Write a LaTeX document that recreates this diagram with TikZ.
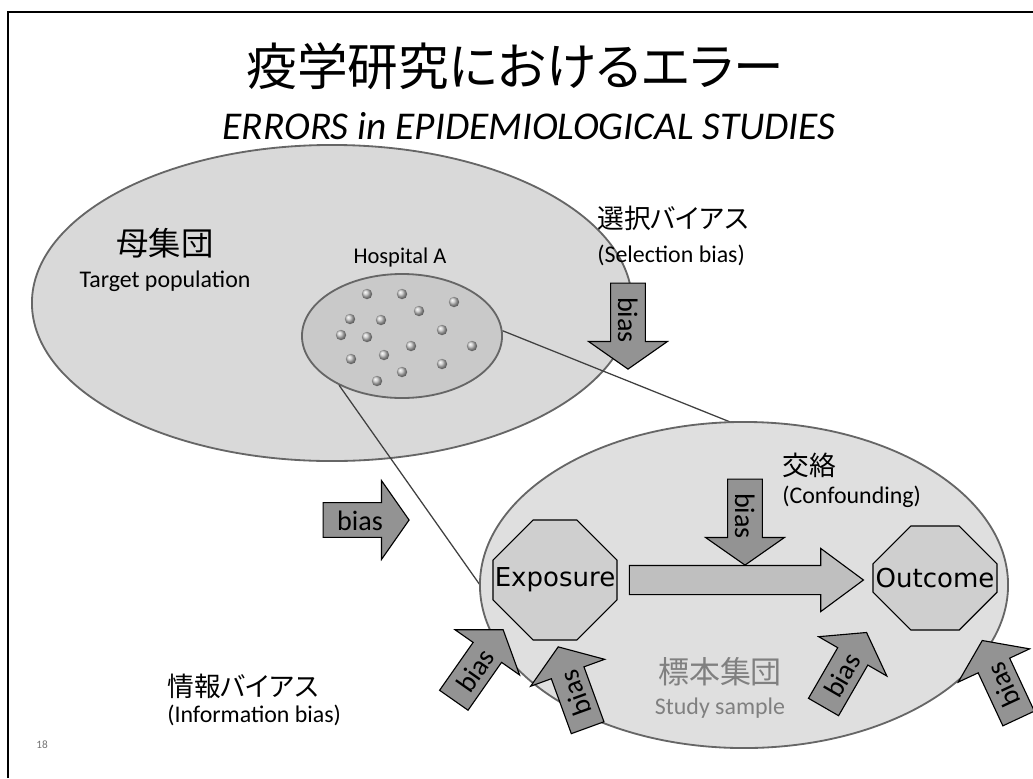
\documentclass[tikz,border=0pt]{standalone}
\usepackage{fontspec}
\setmainfont{Carlito}
\newfontfamily\jpfont{Noto Sans CJK JP}[RawFeature=+palt]
\newfontfamily\boxfont{DejaVu Sans}
\usetikzlibrary{shapes.geometric,shapes.misc,shapes.arrows,positioning}

\tikzset{
  pop/.style={ellipse, draw=black!60, line width=1.3pt},
  octa/.style={chamfered rectangle, chamfered rectangle sep=0.7cm,
    inner xsep=-0.7cm, inner ysep=0pt, draw=black,
    line width=0.8pt, fill=gray!38,
    font=\boxfont\fontsize{18.5}{20}\selectfont},
  biasarrow/.style={single arrow, draw=black, line width=0.8pt, fill=gray!85,
    single arrow head extend=0.55cm, single arrow tip angle=110,
    minimum height=2.15cm, text height=0.5cm, text depth=0cm, inner ysep=0.17cm,
    font=\fontsize{20}{22}\selectfont},
  jplabel/.style={font=\jpfont\fontsize{19}{21}\selectfont, inner sep=0pt, anchor=west},
  enlabel/.style={font=\fontsize{17}{19}\selectfont, inner sep=0pt},
  zoomline/.style={draw=black!75, line width=0.9pt}
}

\begin{document}
\begin{tikzpicture}[x=0.025cm,y=-0.025cm]
\useasboundingbox (0,0) rectangle (1033,778);
\draw[line width=1.5pt] (8,778) -- (8,12) -- (1033,12);

% title
\node (title) [font=\jpfont\fontsize{36}{40}\selectfont] at (515,66) {疫学研究におけるエラー};
\node (subtitle) [font=\itshape\fontsize{28}{30}\selectfont] at (529,126)
    {ERRORS in EPIDEMIOLOGICAL STUDIES};

% target population
\node (target) [pop, fill=gray!30, minimum width=15cm, minimum height=7.9cm] at (332,303) {};
\node (hosp) [pop, fill=gray!42, minimum width=5cm, minimum height=3.1cm] at (402,336) {};
\foreach \p in {(367,294),(402,294),(454,302),(419,311),(350,319),(381,320),
    (442,330),(341,335),(367,337),(411,346),(472,346),(351,359),(384,355),
    (442,364),(402,372),(377,381)}
  \shade[ball color=gray!45] \p circle [radius=0.13cm];
\node (hospname) [font=\fontsize{16}{18}\selectfont] at (400,257) {Hospital A};
\node (targetjp) [font=\jpfont\fontsize{23}{25}\selectfont] at (165,243) {母集団};
\node (targeten) [below=2pt of targetjp, font=\fontsize{17}{19}\selectfont] {Target population};

% zoom lines
\coordinate (zoomend) at (850,470);
\draw[zoomline] (hosp.3) -- (zoomend);
\draw[zoomline] (hosp.218) -- (480,585);

% study sample
\node (sample) [pop, fill=gray!25, minimum width=13.2cm, minimum height=8.15cm] at (744,585) {};
\node (samplejp) [font=\jpfont\fontsize{22}{24}\selectfont, text=black!50] at (720,672) {標本集団};
\node (sampleen) [below=1pt of samplejp, font=\fontsize{17}{19}\selectfont, text=black!50] {Study sample};

\node (expo) [octa, minimum width=3.1cm, minimum height=3cm] at (555,580) {Exposure};
\node (outc) [octa, minimum width=3.1cm, minimum height=2.6cm] at (935,578) {Outcome};
\node (effect) [single arrow, draw=black, line width=0.8pt, fill=gray!50,
    minimum height=5.85cm, inner ysep=0.35cm, inner xsep=0pt,
    single arrow head extend=0.425cm, single arrow tip angle=73,
    right=0.28cm of expo] {};

% labels
\node (seljp) [jplabel] at (597,218) {選択バイアス};
\node (selen) [enlabel, below=0.35cm of seljp.south west, anchor=north west] {(Selection bias)};
\node (confjp) [jplabel] at (782,465) {交絡};
\node (confen) [enlabel, below=0.2cm of confjp.south west, anchor=north west] {(Confounding)};
\node (infojp) [jplabel] at (167,686) {情報バイアス};
\node (infoen) [enlabel, below=0.15cm of infojp.south west, anchor=north west] {(Information bias)};

% bias arrows
\node (selbias) [biasarrow, rotate=-90] at (628,320) {bias};
\node (confbias) [biasarrow, rotate=-90] at (745,516) {bias};
\node (leftbias) [biasarrow] at (360,520) {bias};
\node (infobias1) [biasarrow, rotate=55] at (475,670) {bias};
\node (infobias2) [biasarrow, rotate=110] at (575,693) {bias};
\node (samplebias) [biasarrow, rotate=60] at (842,675) {bias};
\node (edgebias) [biasarrow, rotate=115] at (1003,685) {bias};

\node (pageno) [font=\fontsize{8}{9}\selectfont, text=black!55] at (42,745) {18};
\end{tikzpicture}
\end{document}
